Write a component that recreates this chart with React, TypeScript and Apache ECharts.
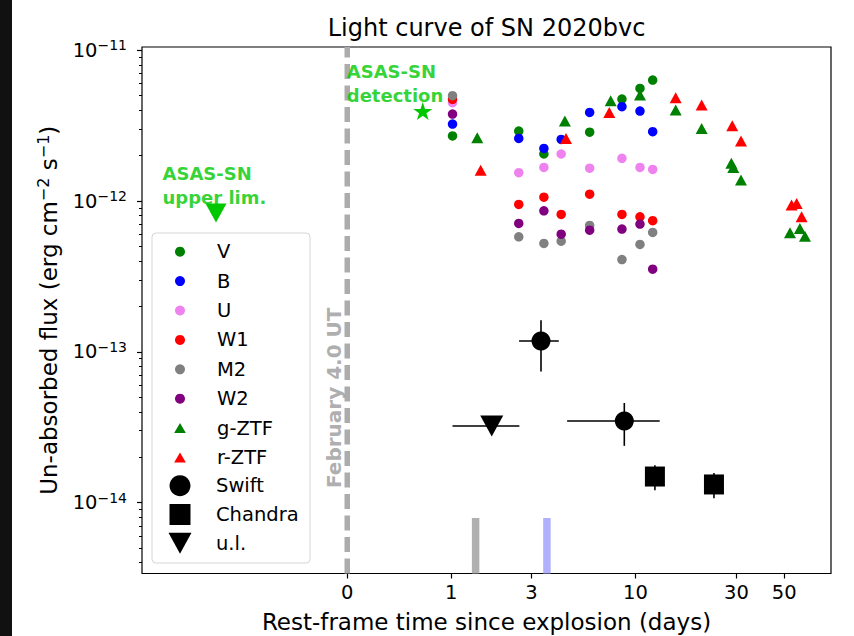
import React, { useEffect, useRef } from "react";
import * as echarts from "echarts";

// ---------- scales ----------
// horizontal axis variable: log10(t + 0.5), t = rest-frame days since explosion
const X_SHIFT = 0.5;
const xf = (t: number) => Math.log10(t + X_SHIFT);
const yf = (f: number) => Math.log10(f);

const X_TICKS = [0, 1, 3, 10, 30, 50];
const X_LIMITS = [-0.4428, 82.3];
const Y_LIMITS = [3.39e-15, 1.05e-11];
const Y_MAJOR_EXP = [-14, -13, -12, -11];
const Y_MINOR_MANT = [2, 3, 4, 5, 6, 7, 8, 9];
const Y_MINOR_EXP = [-15, -14, -13, -12];

// ---------- Swift UVOT photometry ----------
const UVOT_DAYS = [1.02, 2.56, 3.49, 4.29, 5.97, 8.6, 10.51, 12.09];
const V_FLUX = [2.7e-12, 2.91e-12, 2.05e-12, null, 2.86e-12, 4.74e-12, 5.58e-12, 6.34e-12];
const B_FLUX = [3.24e-12, 2.6e-12, 2.23e-12, 2.56e-12, 3.87e-12, 4.22e-12, 3.95e-12, 2.88e-12];
const U_FLUX = [4.49e-12, 1.54e-12, 1.67e-12, 2.05e-12, 1.65e-12, 1.92e-12, 1.67e-12, 1.62e-12];
const W1_FLUX = [4.72e-12, 9.49e-13, 1.06e-12, 8.15e-13, 1.11e-12, 8.15e-13, 7.85e-13, 7.4e-13];
const M2_FLUX = [4.99e-12, 5.79e-13, 5.23e-13, 5.42e-13, 6.89e-13, 4.09e-13, 5.15e-13, 6.19e-13];
const W2_FLUX = [3.77e-12, 7.1e-13, 8.61e-13, 6.03e-13, 6.41e-13, 6.52e-13, 7.03e-13, 3.53e-13];

// ---------- ZTF photometry ----------
const G_DAYS = [1.474, 4.48, 7.58, 10.51, 15.55, 20.62, 28.4, 29.0, 31.5, 53.2, 59.1, 62.4];
const G_FLUX = [2.63e-12, 3.39e-12, 4.63e-12, 5.05e-12, 4.01e-12, 3.03e-12, 1.78e-12, 1.67e-12, 1.38e-12, 6.15e-13, 6.58e-13, 5.85e-13];
const R_DAYS = [1.546, 4.54, 7.46, 15.55, 20.62, 28.68, 31.5, 54.1, 57.1, 60.2];
const R_FLUX = [1.6e-12, 2.6e-12, 3.87e-12, 4.84e-12, 4.33e-12, 3.16e-12, 2.5e-12, 9.4e-13, 9.64e-13, 7.85e-13];

// ---------- X-ray ----------
const SWIFT_DAYS = [3.37, 8.83];
const SWIFT_DAYS_ERR = [0.8, 4.23];
const SWIFT_FLUX = [1.18e-13, 3.48e-14];
const SWIFT_FLUX_ERR = [4.4e-14, 1.1e-14];
const UL_DAYS = [1.8];
const UL_DAYS_ERR = [0.78];
const UL_FLUX = [3.22e-14];
const CHANDRA_DAYS = [12.39, 23.55];
const CHANDRA_FLUX = [1.49e-14, 1.32e-14];
const CHANDRA_FLUX_ERR = [2.8e-15, 2.5e-15];

// ---------- ASAS-SN ----------
const ASAS_DET_DAYS = [0.61];
const ASAS_DET_FLUX = [3.95e-12];
const ASAS_UL_DAYS = [-0.375];
const ASAS_UL_FLUX = [8.32e-13];

// ---------- epoch markers at the bottom ----------
const EPOCH_DAYS = [1.44, 3.62];
const EPOCH_COLORS = ["#b0b0b0", "#b0b0ff"];
const EPOCH_TOP_FLUX = 7.9e-15;

// ---------- text annotations (data coordinates) ----------
const NOTE_FEB = { t: -0.0655, f: 4.96e-14, text: "February 4.0 UT" };
const NOTE_DET = { t: 0.0, f: 8.65e-12, text: "ASAS-SN\ndetection" };
const NOTE_UL = { t: -0.4286, f: 1.82e-12, text: "ASAS-SN\nupper lim." };

const FONT = "DejaVu Sans";
const GREEN_NOTE = "#00c800";

const pts = (ts: number[], fs: (number | null)[]) =>
  ts
    .map((t, i) => (fs[i] == null ? null : [xf(t), yf(fs[i] as number)]))
    .filter((p) => p !== null) as number[][];

const starPath = (() => {
  const p: string[] = [];
  for (let k = 0; k < 10; k++) {
    const r = k % 2 === 0 ? 1 : 0.382;
    const a = -Math.PI / 2 + (k * Math.PI) / 5;
    p.push(`${(r * Math.cos(a)).toFixed(4)},${(r * Math.sin(a)).toFixed(4)}`);
  }
  return "path://M" + p.join("L") + "Z";
})();
const downTri = "path://M0,0L2,0L1,2Z";
const upTri = "path://M1,0L2,2L0,2Z";
const square = "path://M0,0L2,0L2,2L0,2Z";
// legend icons: the leading moves pad the icon box so the glyph keeps its shape
const LEG_UPTRI = "path://M0,0M64,10M32,0L37.85,10L26.15,10Z";
const LEG_SQUARE = "path://M0,0M62,21M20.5,0L41.5,0L41.5,21L20.5,21Z";
const LEG_DOWNTRI = "path://M0,0M62,21M19.5,0L42.5,0L31,21Z";

function sc(name: string, data: number[][], symbol: string, size: any, color: string, extra: any = {}) {
  return {
    type: "scatter",
    name,
    data,
    symbol,
    symbolSize: size,
    symbolKeepAspect: false,
    itemStyle: { color, opacity: 1 },
    silent: true,
    emphasis: { disabled: true },
    z: 3,
    ...extra,
  };
}

function errSeries(name: string, rows: number[][]) {
  return {
    type: "custom",
    name,
    silent: true,
    z: 2,
    data: rows,
    encode: { x: 0, y: 1 },
    renderItem: (_params: any, api: any) => {
      const x = api.value(0), y = api.value(1);
      const xl = api.value(2), xh = api.value(3), yl = api.value(4), yh = api.value(5);
      const ch: any[] = [];
      const seg = (a: number[], b: number[]) => {
        const p = api.coord(a), q = api.coord(b);
        ch.push({ type: "line", shape: { x1: p[0], y1: p[1], x2: q[0], y2: q[1] }, style: { stroke: "#000", lineWidth: 1.6 } });
      };
      if (xh > xl) seg([xl, y], [xh, y]);
      if (yh > yl) seg([x, yl], [x, yh]);
      return { type: "group", children: ch };
    },
  };
}

function buildOption() {
  const xMin = xf(X_LIMITS[0]);
  const xMax = xf(X_LIMITS[1]);
  const yMin = yf(Y_LIMITS[0]);
  const yMax = yf(Y_LIMITS[1]);
  const xTickVals = X_TICKS.map(xf);
  const yMinor = Y_MINOR_EXP.flatMap((e) => Y_MINOR_MANT.map((m) => Math.log10(m) + e)).filter(
    (v) => v >= yMin && v <= yMax
  );

  const swiftErr = SWIFT_DAYS.map((t, i) => [
    xf(t), yf(SWIFT_FLUX[i]),
    xf(t - SWIFT_DAYS_ERR[i]), xf(t + SWIFT_DAYS_ERR[i]),
    yf(SWIFT_FLUX[i] - SWIFT_FLUX_ERR[i]), yf(SWIFT_FLUX[i] + SWIFT_FLUX_ERR[i]),
  ]);
  const ulErr = UL_DAYS.map((t, i) => [
    xf(t), yf(UL_FLUX[i]), xf(t - UL_DAYS_ERR[i]), xf(t + UL_DAYS_ERR[i]), yf(UL_FLUX[i]), yf(UL_FLUX[i]),
  ]);
  const chErr = CHANDRA_DAYS.map((t, i) => [
    xf(t), yf(CHANDRA_FLUX[i]), xf(t), xf(t),
    yf(CHANDRA_FLUX[i] - CHANDRA_FLUX_ERR[i]), yf(CHANDRA_FLUX[i] + CHANDRA_FLUX_ERR[i]),
  ]);

  const legendText = { fontSize: 19.5, lineHeight: 20, color: "#000", fontFamily: FONT };

  return {
    animation: false,
    backgroundColor: "#ffffff",
    textStyle: { fontFamily: FONT },
    title: {
      text: "Light curve of SN 2020bvc",
      left: 486.5,
      top: 14.4,
      textAlign: "center",
      padding: 0,
      textStyle: { fontSize: 24, lineHeight: 28, fontWeight: "normal", color: "#000", fontFamily: FONT },
    },
    grid: {
      left: 142,
      top: 47,
      width: 689,
      height: 526.5,
      show: true,
      borderColor: "#000",
      borderWidth: 1.2,
      backgroundColor: "transparent",
      containLabel: false,
      outerBoundsMode: "none",
    },
    xAxis: {
      type: "value",
      min: xMin,
      max: xMax,
      axisLine: { show: false, onZero: false },
      splitLine: { show: false },
      axisTick: { show: true, customValues: xTickVals, length: 5, lineStyle: { color: "#000", width: 1.2 } },
      axisLabel: {
        customValues: xTickVals,
        formatter: (v: number) => {
          const t = X_TICKS.find((tt) => Math.abs(xf(tt) - v) < 1e-6);
          return t === undefined ? "" : String(t);
        },
        fontSize: 19.5,
        lineHeight: 22,
        color: "#000",
        margin: 8,
        fontFamily: FONT,
      },
      name: "Rest-frame time since explosion (days)",
      nameLocation: "middle",
      nameGap: 35.5,
      nameTextStyle: { fontSize: 23, lineHeight: 26, color: "#000", fontFamily: FONT },
    },
    yAxis: [
      {
        type: "value",
        min: yMin,
        max: yMax,
        position: "left",
        axisLine: { show: false, onZero: false },
        splitLine: { show: false },
        axisTick: { show: true, customValues: Y_MAJOR_EXP, length: 5, lineStyle: { color: "#000", width: 1.2 } },
        axisLabel: {
          customValues: Y_MAJOR_EXP,
          formatter: (v: number) => `{b|10}{s|\u2212${Math.abs(Math.round(v))}}`,
          margin: 15,
          rich: {
            b: { fontSize: 19.5, lineHeight: 24, color: "#000", fontFamily: FONT },
            s: { fontSize: 14, lineHeight: 14, verticalAlign: "top", color: "#000", fontFamily: FONT },
          },
        },
        name: "{b|Un-absorbed flux (erg cm}{s|\u22122}{b| s}{s|\u22121}{b|)}",
        nameLocation: "middle",
        nameRotate: 90,
        nameGap: 79,
        nameTextStyle: {
          color: "#000",
          rich: {
            b: { fontSize: 23, lineHeight: 28, color: "#000", fontFamily: FONT },
            s: { fontSize: 16, lineHeight: 16, verticalAlign: "top", color: "#000", fontFamily: FONT },
          },
        },
      },
      {
        type: "value",
        min: yMin,
        max: yMax,
        position: "left",
        offset: 0,
        axisLine: { show: false, onZero: false },
        splitLine: { show: false },
        axisLabel: { show: false },
        axisTick: { show: true, customValues: yMinor, length: 3, lineStyle: { color: "#000", width: 1 } },
      },
    ],
    legend: [
      {
        data: [
          "V", "B", "U", "W1", "M2", "W2",
          { name: "g-ZTF", icon: LEG_UPTRI },
          { name: "r-ZTF", icon: LEG_UPTRI },
        ],
        orient: "vertical",
        left: 148,
        top: 241.7,
        itemWidth: 64,
        itemHeight: 10,
        itemGap: 9.4,
        padding: 0,
        selectedMode: false,
        textStyle: legendText,
      },
      {
        data: [
          { name: "Swift", icon: "circle" },
          { name: "Chandra", icon: LEG_SQUARE },
          { name: "u.l.", icon: LEG_DOWNTRI },
        ],
        orient: "vertical",
        left: 149,
        top: 475.2,
        itemWidth: 62,
        itemHeight: 21,
        itemGap: 7.8,
        padding: 0,
        selectedMode: false,
        textStyle: legendText,
      },
    ],
    graphic: [
      { type: "rect", shape: { x: 0, y: 0, width: 12, height: 636 }, style: { fill: "#111" }, silent: true },
      {
        type: "rect",
        shape: { x: 152, y: 233, width: 158, height: 330, r: 4 },
        style: { fill: "rgba(255,255,255,0.8)", stroke: "#d6d6d6", lineWidth: 1 },
        silent: true,
        z: 1,
      },
    ],
    series: [
      {
        type: "line",
        name: "explosion",
        data: [[xf(0), yMin], [xf(0), yMax]],
        symbol: "none",
        silent: true,
        z: 1,
        lineStyle: { color: "#acacac", width: 5.5, type: [15, 6.5] },
      },
      ...EPOCH_DAYS.map((t, i) => ({
        type: "line",
        name: "epoch" + i,
        data: [[xf(t), yMin], [xf(t), yf(EPOCH_TOP_FLUX)]],
        symbol: "none",
        silent: true,
        z: 1,
        lineStyle: { color: EPOCH_COLORS[i], width: 7.5 },
      })),
      sc("V", pts(UVOT_DAYS, V_FLUX), "circle", 9.5, "#008000"),
      sc("B", pts(UVOT_DAYS, B_FLUX), "circle", 9.5, "#0000ff"),
      sc("U", pts(UVOT_DAYS, U_FLUX), "circle", 9.5, "#ee82ee"),
      sc("W1", pts(UVOT_DAYS, W1_FLUX), "circle", 9.5, "#ff0000"),
      sc("M2", pts(UVOT_DAYS, M2_FLUX), "circle", 9.5, "#808080"),
      sc("W2", pts(UVOT_DAYS, W2_FLUX), "circle", 9.5, "#800080"),
      sc("g-ZTF", pts(G_DAYS, G_FLUX), upTri, [12, 11], "#008000"),
      sc("r-ZTF", pts(R_DAYS, R_FLUX), upTri, [12, 11], "#ff0000"),
      errSeries("swift-err", swiftErr),
      errSeries("ul-err", ulErr),
      errSeries("chandra-err", chErr),
      sc("Swift", pts(SWIFT_DAYS, SWIFT_FLUX), "circle", 19, "#000000", { z: 4 }),
      sc("Chandra", pts(CHANDRA_DAYS, CHANDRA_FLUX), square, 20, "#000000", { z: 4 }),
      sc("u.l.", pts(UL_DAYS, UL_FLUX), downTri, [23, 21], "#000000", { z: 4 }),
      sc("ASAS-SN det", pts(ASAS_DET_DAYS, ASAS_DET_FLUX), starPath, 19, GREEN_NOTE, { symbolKeepAspect: true, z: 4 }),
      sc("ASAS-SN ul", pts(ASAS_UL_DAYS, ASAS_UL_FLUX), downTri, [21, 19], GREEN_NOTE, { z: 4 }),
      {
        type: "scatter",
        name: "notes",
        silent: true,
        symbolSize: 1,
        itemStyle: { color: "rgba(0,0,0,0)" },
        emphasis: { disabled: true },
        z: 5,
        data: [
          {
            value: [xf(NOTE_FEB.t), yf(NOTE_FEB.f)],
            label: {
              show: true,
              formatter: NOTE_FEB.text,
              position: "inside",
              rotate: 90,
              align: "center",
              verticalAlign: "middle",
              color: "#999999",
              fontWeight: "bold",
              fontSize: 20,
              fontFamily: FONT,
            },
          },
          {
            value: [xf(NOTE_DET.t), yf(NOTE_DET.f)],
            label: {
              show: true,
              formatter: NOTE_DET.text,
              position: [0, 0],
              align: "left",
              verticalAlign: "top",
              color: GREEN_NOTE,
              fontWeight: "bold",
              fontSize: 18,
              lineHeight: 24,
              fontFamily: FONT,
            },
          },
          {
            value: [xf(NOTE_UL.t), yf(NOTE_UL.f)],
            label: {
              show: true,
              formatter: NOTE_UL.text,
              position: [0, 0],
              align: "left",
              verticalAlign: "top",
              color: GREEN_NOTE,
              fontWeight: "bold",
              fontSize: 18,
              lineHeight: 24,
              fontFamily: FONT,
            },
          },
        ],
      },
    ],
  };
}

export default function App() {
  const ref = useRef<HTMLDivElement>(null);
  useEffect(() => {
    if (!ref.current) return;
    const chart = echarts.init(ref.current, undefined, { renderer: "svg" });
    chart.setOption(buildOption() as any);
    return () => chart.dispose();
  }, []);
  return (
    <div
      ref={ref}
      style={{ position: "fixed", left: 0, top: 0, width: 854, height: 636, background: "#ffffff" }}
    />
  );
}
